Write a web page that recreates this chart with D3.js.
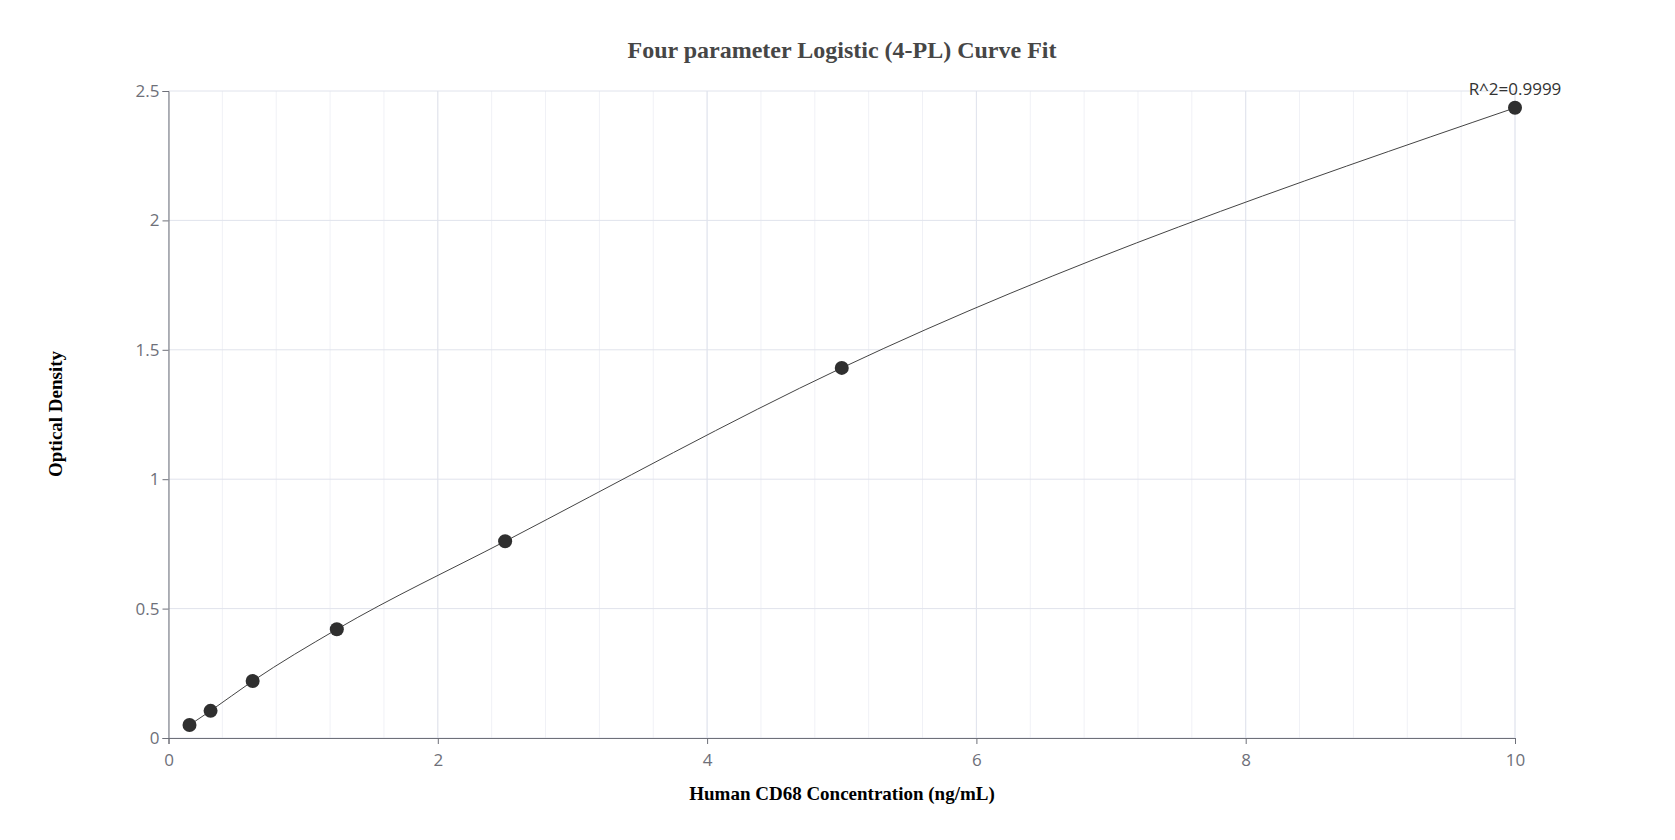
<!DOCTYPE html>
<html><head><meta charset="utf-8">
<script src="https://cdn.jsdelivr.net/npm/d3@7"></script>
<style>body{margin:0;background:#fff}</style></head>
<body><svg id="c" width="1675" height="840"></svg>
<script>
const concentrations = [0.156, 0.3125, 0.625, 1.25, 2.5, 5, 10];
const densities = [0.05, 0.105, 0.22, 0.42, 0.76, 1.43, 2.435];
const xTicks = [0, 2, 4, 6, 8, 10];
const yTicks = [0, 0.5, 1, 1.5, 2, 2.5];
const title = "Four parameter Logistic (4-PL) Curve Fit";
const xLabel = "Human CD68 Concentration (ng/mL)";
const yLabel = "Optical Density";
const r2Label = "R^2=0.9999";

const svg = d3.select("#c");
const L = 168.5, R = 1515, T = 91, B = 738;
const x = d3.scaleLinear().domain([0, 10]).range([L, R]);
const y = d3.scaleLinear().domain([0, 2.5]).range([B, T]);
const g = svg.append("g");
d3.range(0, 10.01, 0.4).forEach(v => {
  g.append("line").attr("x1", x(v)).attr("x2", x(v)).attr("y1", T).attr("y2", B)
   .attr("stroke", "#f0f1f6").attr("stroke-width", 1);
});
xTicks.forEach(v => g.append("line").attr("x1", x(v)).attr("x2", x(v)).attr("y1", T).attr("y2", B).attr("stroke", "#e0e3ec"));
yTicks.forEach(v => g.append("line").attr("x1", L).attr("x2", R).attr("y1", y(v)).attr("y2", y(v)).attr("stroke", "#e0e3ec"));

const xa = svg.append("g").attr("transform", `translate(0,${B})`)
  .call(d3.axisBottom(x).tickValues(xTicks).tickSize(6).tickFormat(d3.format("~g")));
const ya = svg.append("g").attr("transform", `translate(${L},0)`)
  .call(d3.axisLeft(y).tickValues(yTicks).tickSize(6).tickFormat(d3.format("~g")));
[xa, ya].forEach(a => {
  a.selectAll("path,line").attr("stroke", "#6e7079");
  a.selectAll("text").attr("fill", "#6e7079").style("font-family", "Open Sans, sans-serif").style("font-size", "17px");
});
xa.selectAll("text").attr("dy", "1.1em");

svg.append("path").datum(concentrations.map((c, i) => [c, densities[i]]))
  .attr("fill", "none").attr("stroke", "#444").attr("stroke-width", 1)
  .attr("d", d3.line().x(d => x(d[0])).y(d => y(d[1])).curve(d3.curveMonotoneX));

svg.selectAll("circle.p").data(concentrations).enter().append("circle")
  .attr("cx", d => x(d)).attr("cy", (d, i) => y(densities[i])).attr("r", 7).attr("fill", "#2f2f2f");

svg.append("text").attr("x", x(10)).attr("y", y(2.435) - 13).attr("text-anchor", "middle")
  .attr("fill", "#333").style("font-family", "Open Sans, sans-serif").style("font-size", "17px").text(r2Label);
svg.append("text").attr("x", 842).attr("y", 58).attr("text-anchor", "middle")
  .attr("fill", "#464646").style("font-family", "Liberation Serif, serif").style("font-weight", "bold").style("font-size", "24px").text(title);
svg.append("text").attr("x", 842).attr("y", 800).attr("text-anchor", "middle")
  .attr("fill", "#000").style("font-family", "Liberation Serif, serif").style("font-weight", "bold").style("font-size", "19px").text(xLabel);
svg.append("text").attr("transform", "translate(62,414) rotate(-90)").attr("text-anchor", "middle")
  .attr("fill", "#000").style("font-family", "Liberation Serif, serif").style("font-weight", "bold").style("font-size", "19px").text(yLabel);
</script></body></html>
